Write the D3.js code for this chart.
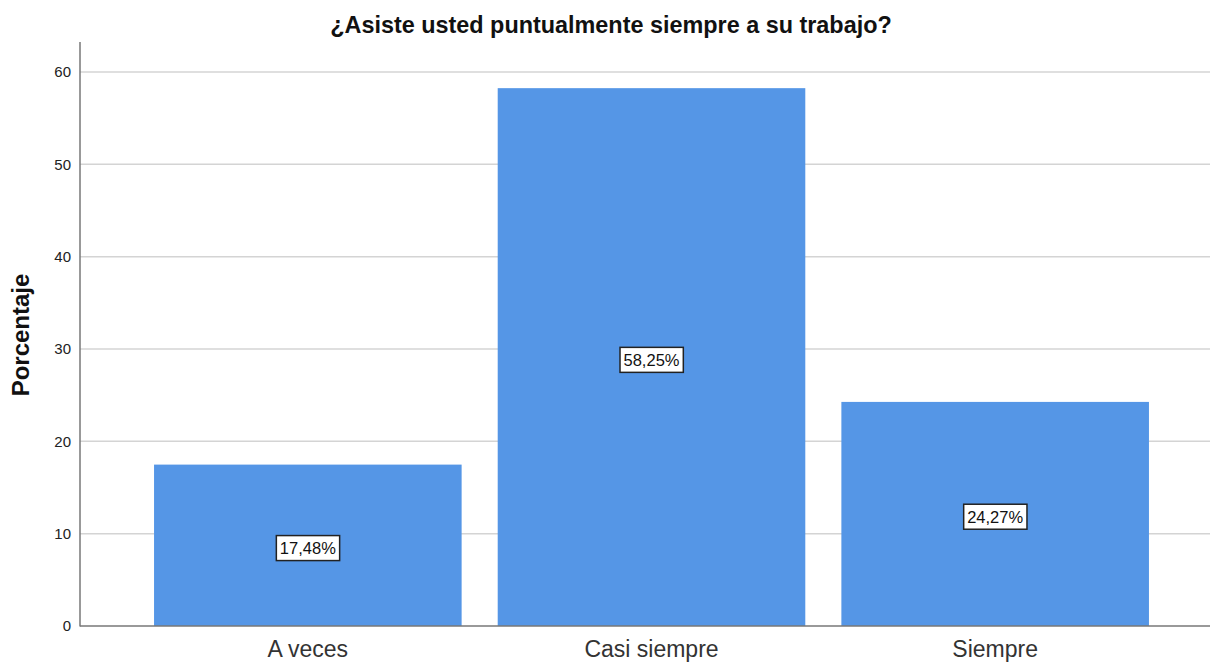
<!DOCTYPE html>
<html><head><meta charset="utf-8">
<script src="https://cdn.jsdelivr.net/npm/d3@7"></script>
<style>body{margin:0;background:#fff;}svg{display:block;font-family:"Liberation Sans",Arial,sans-serif;}</style>
</head><body>
<svg id="c" width="1210" height="662"></svg>
<script>
const categories = ["A veces", "Casi siempre", "Siempre"];
const values = [17.48, 58.25, 24.27];
const valueLabels = ["17,48%", "58,25%", "24,27%"];
const yTicks = [0, 10, 20, 30, 40, 50, 60];
const title = "¿Asiste usted puntualmente siempre a su trabajo?";
const yTitle = "Porcentaje";

const svg = d3.select("#c");
const x0 = 80, x1 = 1210, yTop = 42, yBot = 626;
const y = d3.scaleLinear().domain([0, 60]).range([yBot, 72]);
const x = d3.scaleBand().domain(categories).range([136, 1167]).paddingInner(0.105).paddingOuter(0.0525);

// gridlines
svg.append("g").selectAll("line").data(yTicks.filter(d => d > 0)).join("line")
  .attr("x1", x0).attr("x2", x1).attr("y1", d => y(d)).attr("y2", d => y(d))
  .attr("stroke", "#d4d4d4").attr("stroke-width", 1.5);

// bars
svg.append("g").selectAll("rect").data(values).join("rect")
  .attr("x", (d, i) => x(categories[i])).attr("width", x.bandwidth())
  .attr("y", d => y(d)).attr("height", d => yBot - y(d))
  .attr("fill", "#5596e6");

// axes
const ya = svg.append("g").attr("transform", `translate(${x0},0)`)
  .call(d3.axisLeft(y).tickValues(yTicks).tickSize(0).tickPadding(9));
ya.select(".domain").remove();
ya.selectAll("text").attr("font-size", 15).attr("fill", "#222").attr("font-family", "Liberation Sans, Arial, sans-serif");
svg.append("line").attr("x1", x0).attr("x2", x0).attr("y1", yTop).attr("y2", yBot + 0.5).attr("stroke", "#777").attr("stroke-width", 1.5);
svg.append("line").attr("x1", x0).attr("x2", x1).attr("y1", yBot).attr("y2", yBot).attr("stroke", "#777").attr("stroke-width", 1.5);

const xa = svg.append("g").attr("transform", `translate(0,${yBot})`)
  .call(d3.axisBottom(x).tickSize(0).tickPadding(15));
xa.select(".domain").remove();
xa.selectAll("text").attr("font-size", 23).attr("fill", "#333").attr("font-family", "Liberation Sans, Arial, sans-serif");

// value labels
const lg = svg.append("g").selectAll("g").data(values).join("g")
  .attr("transform", (d, i) => `translate(${x(categories[i]) + x.bandwidth() / 2},${y(d / 2) + 3})`);
lg.append("text").text((d, i) => valueLabels[i])
  .attr("text-anchor", "middle").attr("dy", "0.35em").attr("font-size", 16.5).attr("fill", "#111");
lg.each(function () {
  const g = d3.select(this);
  const bb = g.select("text").node().getBBox();
  g.insert("rect", "text").attr("x", bb.x - 3.5).attr("y", bb.y - 3.5).attr("width", bb.width + 7).attr("height", bb.height + 7)
    .attr("fill", "#fff").attr("stroke", "#222").attr("stroke-width", 1.5);
});

// titles
svg.append("text").attr("x", 611).attr("y", 33).attr("text-anchor", "middle")
  .attr("font-size", 23.4).attr("font-weight", "bold").attr("fill", "#111").text(title);
svg.append("text").attr("transform", "translate(29,335) rotate(-90)").attr("text-anchor", "middle")
  .attr("font-size", 24).attr("font-weight", "bold").attr("fill", "#111").text(yTitle);
</script>
</body></html>
